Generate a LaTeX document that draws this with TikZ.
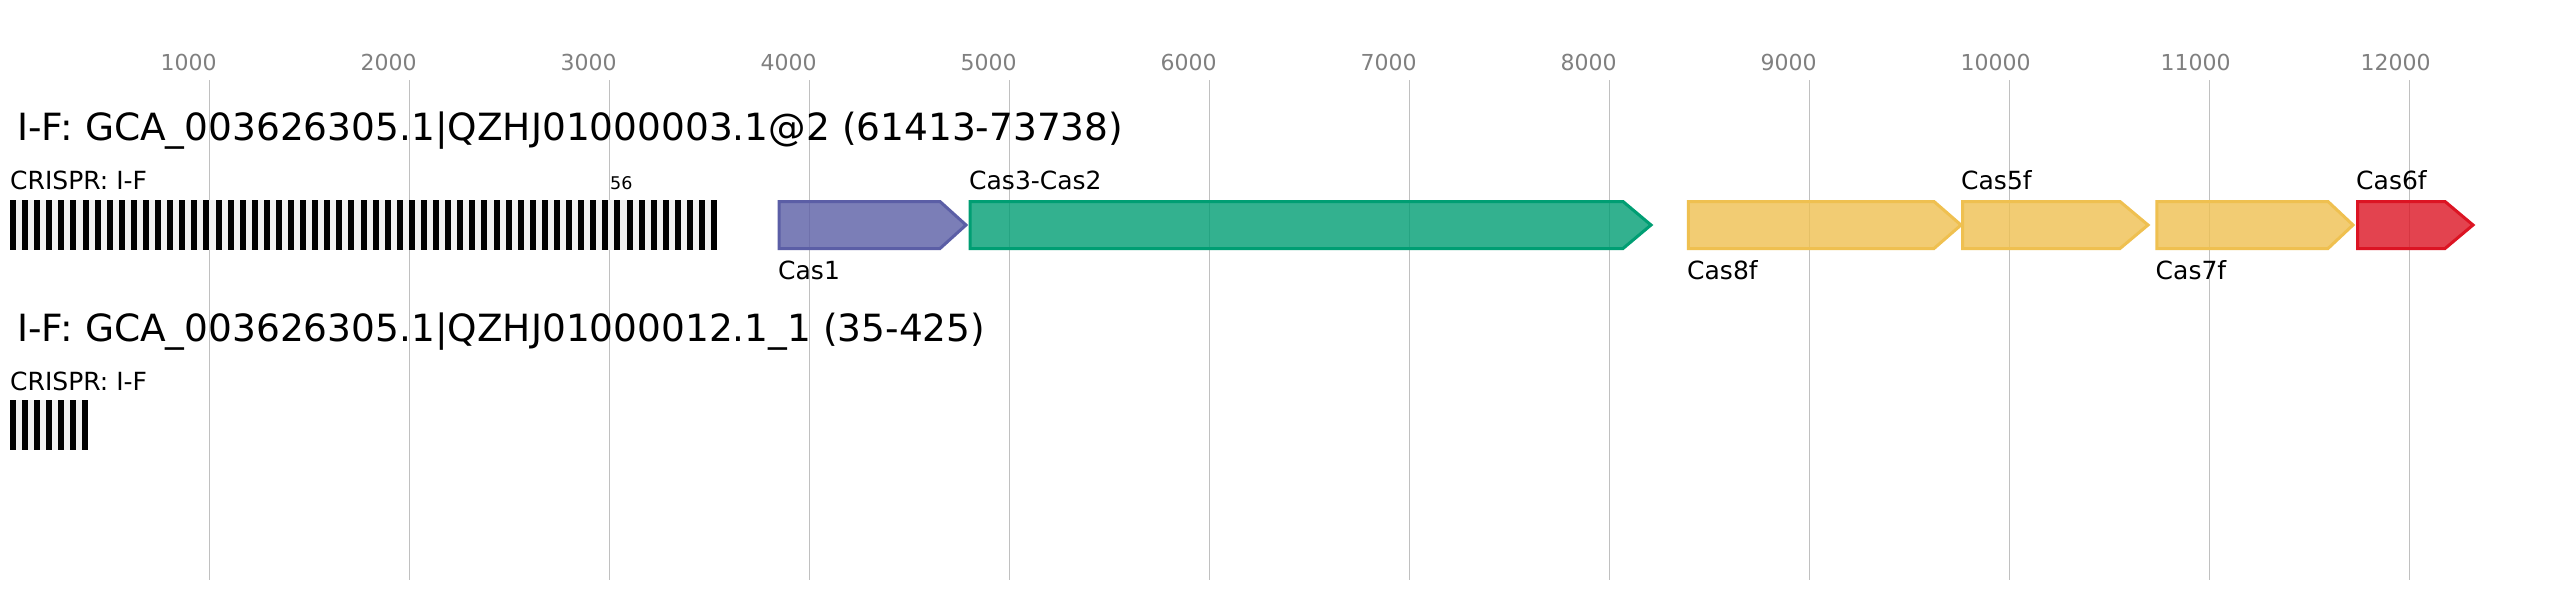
\documentclass[tikz,border=0pt]{standalone}
\usepackage{fontspec}
\setmainfont{DejaVu Sans}
\definecolor{gridc}{RGB}{192,192,192}
\definecolor{tickc}{RGB}{128,128,128}
\definecolor{spacerc}{RGB}{240,240,240}
\definecolor{casone}{RGB}{91,94,166}
\definecolor{casthree}{RGB}{0,158,115}
\definecolor{caseight}{RGB}{239,192,80}
\definecolor{cassix}{RGB}{220,20,35}
\begin{document}
\begin{tikzpicture}[x=1pt,y=-1pt,
  gridline/.style={draw=gridc,line width=1.7},
  ticklabel/.style={anchor=base west,inner sep=0,text=tickc,font=\fontsize{22}{26}\selectfont},
  titlelabel/.style={anchor=base west,inner sep=0,font=\fontsize{37.5}{44}\selectfont},
  genelabel/.style={anchor=base west,inner sep=0,font=\fontsize{25}{30}\selectfont},
  smalllabel/.style={anchor=base west,inner sep=0,font=\fontsize{17.5}{21}\selectfont},
  genebox/.style={line width=3,line join=miter,fill opacity=0.8,draw opacity=1},
  repeatbar/.style={fill=black},
  arraybg/.style={fill=spacerc}]
\useasboundingbox (0,0) rectangle (2565,600);
\fill[white] (0,0) rectangle (2565,600);
% grid and ticks
\foreach \k in {1,...,12}{
  \pgfmathsetmacro\gx{9.4+200*\k}
  \coordinate (gt\k) at (\gx,80);
  \coordinate (gb\k) at (\gx,580);
  \draw[gridline] (gt\k) -- (gb\k);
  \node[ticklabel] (tick\k) at (\gx-49,70.7) {\k000};
}
% titles
\node[titlelabel] (title1) at (17,140) {I-F: GCA\_003626305.1|QZHJ01000003.1@2 (61413-73738)};
\node[titlelabel] (title2) at (17,341) {I-F: GCA\_003626305.1|QZHJ01000012.1\_1 (35-425)};
% CRISPR arrays
\node[genelabel] (crispr1) at (10,189.3) {CRISPR: I-F};
\fill[arraybg] (10,200) rectangle (717.3,250);
\foreach \i in {0,...,58}{
  \fill[repeatbar] (10+12.089*\i,200) rectangle +(6,50);
}
\node[smalllabel] (count1) at (610,189.3) {56};
\node[genelabel] (crispr2) at (10,390) {CRISPR: I-F};
\fill[arraybg] (10,400) rectangle (88.3,450);
\foreach \i in {0,...,6}{
  \fill[repeatbar] (10+12.05*\i,400) rectangle +(6,50);
}
% genes
\draw[genebox,draw=casone,fill=casone] (779.2,201.5) -- (940,201.5) -- (966,225) -- (940,248.5) -- (779.2,248.5) -- cycle;
\node[genelabel] (cas1) at (778,279.3) {Cas1};
\draw[genebox,draw=casthree,fill=casthree] (970,201.5) -- (1623,201.5) -- (1651,225) -- (1623,248.5) -- (970,248.5) -- cycle;
\node[genelabel] (cas3) at (969,189.3) {Cas3-Cas2};
\draw[genebox,draw=caseight,fill=caseight] (1688.3,201.5) -- (1934,201.5) -- (1961,225) -- (1934,248.5) -- (1688.3,248.5) -- cycle;
\node[genelabel] (cas8) at (1687,279.3) {Cas8f};
\draw[genebox,draw=caseight,fill=caseight] (1962.5,201.5) -- (2120,201.5) -- (2148,225) -- (2120,248.5) -- (1962.5,248.5) -- cycle;
\node[genelabel] (cas5) at (1961,189.3) {Cas5f};
\draw[genebox,draw=caseight,fill=caseight] (2156.8,201.5) -- (2328,201.5) -- (2353,225) -- (2328,248.5) -- (2156.8,248.5) -- cycle;
\node[genelabel] (cas7) at (2155.5,279.3) {Cas7f};
\draw[genebox,draw=cassix,fill=cassix] (2357.5,201.5) -- (2445,201.5) -- (2473,225) -- (2445,248.5) -- (2357.5,248.5) -- cycle;
\node[genelabel] (cas6) at (2356,189.3) {Cas6f};
\end{tikzpicture}
\end{document}
